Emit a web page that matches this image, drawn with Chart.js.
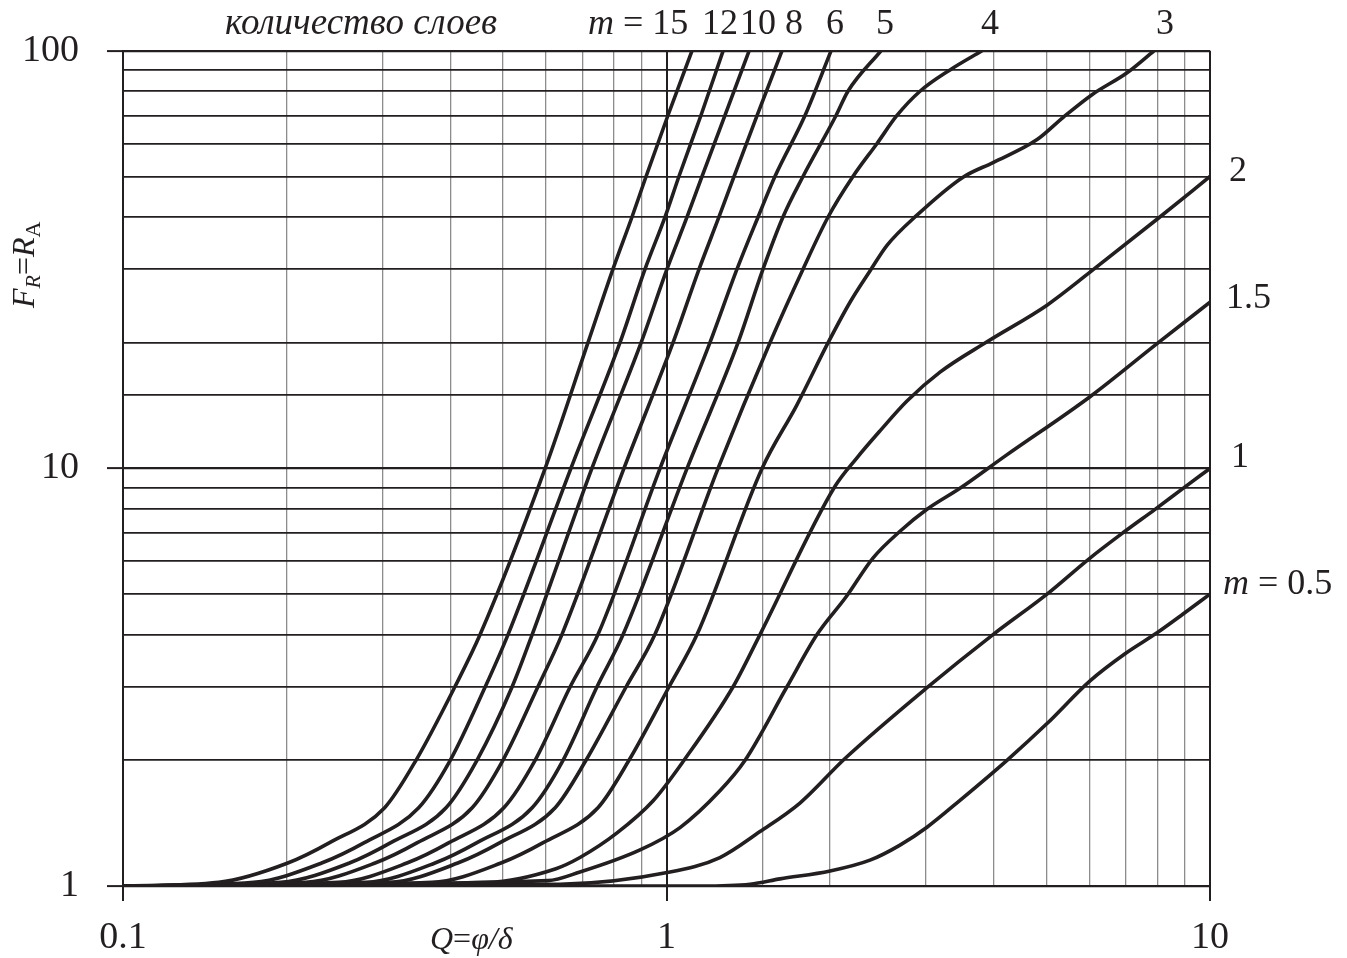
<!DOCTYPE html>
<html>
<head>
<meta charset="utf-8">
<script src="https://cdn.jsdelivr.net/npm/chart.js@4.4.1/dist/chart.umd.min.js"></script>
<style>
  html, body { margin: 0; padding: 0; background: #fff; }
  #wrap { width: 1347px; height: 958px; position: relative; }
</style>
</head>
<body>
<div id="wrap"><canvas id="chart"></canvas></div>
<script>
// number of layers m (one curve each)
const layers = ['15', '12', '10', '8', '6', '5', '4', '3', '2', '1.5', '1', '0.5'];

// F levels shared by the steep curves m = 15 ... 6
const fSteep = [1, 1.02, 1.135, 1.27, 1.54, 2, 3, 4, 10, 20, 30, 40, 50, 70, 100];

// Q = phi/delta
const qM15 = [0.1, 0.150, 0.201, 0.240, 0.303, 0.346, 0.408, 0.454, 0.598, 0.717, 0.797, 0.864, 0.917, 1.006, 1.114];
const qM12 = [0.1, 0.174, 0.232, 0.278, 0.350, 0.400, 0.464, 0.511, 0.667, 0.821, 0.913, 0.994, 1.054, 1.157, 1.271];
const qM10 = [0.1, 0.195, 0.261, 0.311, 0.393, 0.448, 0.520, 0.566, 0.729, 0.898, 1.002, 1.091, 1.162, 1.281, 1.419];
const qM8  = [0.1, 0.217, 0.291, 0.348, 0.439, 0.500, 0.580, 0.642, 0.835, 1.028, 1.148, 1.249, 1.331, 1.468, 1.631];
const qM6  = [0.1, 0.249, 0.333, 0.398, 0.502, 0.573, 0.665, 0.748, 0.973, 1.202, 1.348, 1.474, 1.583, 1.798, 2.008];

const qM5 = [0.1, 0.280, 0.375, 0.448, 0.566, 0.645, 0.745, 0.832, 1.091, 1.354, 1.505, 1.638, 1.783, 2.051, 2.157, 2.481];
const fM5 = [1, 1.02, 1.135, 1.27, 1.54, 2, 3, 4, 10, 20, 30, 40, 50, 70, 80, 100];

const qM4 = [0.1, 0.309, 0.413, 0.494, 0.624, 0.711, 0.843, 0.952, 1.244, 1.550, 1.783, 1.983, 2.203, 2.440, 2.655, 2.927, 3.324, 3.807];
const fM4 = [1, 1.02, 1.135, 1.27, 1.54, 2, 3, 4, 10, 20, 30, 40, 50, 60, 70, 80, 90, 100];

const qM3 = [0.1, 0.370, 0.496, 0.593, 0.748, 0.853, 1.011, 1.138, 1.499, 1.738, 1.983, 2.176, 2.368, 2.545, 2.890, 3.512, 3.988, 4.807, 5.363, 6.066, 7.037, 7.889];
const fM3 = [1, 1.02, 1.135, 1.27, 1.54, 2, 3, 4, 10, 14.2, 20, 25, 29.7, 34.2, 40.4, 49.8, 54, 61.3, 69.2, 78.5, 88.6, 100];

const qM2 = [0.1, 0.468, 0.626, 0.693, 0.811, 0.945, 1.077, 1.326, 1.486, 2.042, 2.241, 2.471, 2.770, 3.186, 3.888, 5.013, 6.015, 7.990, 10];
const fM2 = [1, 1.02, 1.10, 1.17, 1.34, 1.6, 2, 3, 4, 9.06, 10.6, 12.3, 14.5, 17.0, 20.1, 24.6, 29.5, 39.5, 50];

const qM15b = [0.1, 0.605, 0.693, 0.894, 1.059, 1.254, 1.395, 1.666, 1.892, 2.139, 2.398, 2.689, 3.015, 3.467, 4.196, 6.015, 7.990, 10];
const fM15b = [1, 1.03, 1.08, 1.22, 1.38, 1.69, 2, 3, 4, 4.92, 6.10, 7.07, 7.98, 8.96, 10.7, 14.85, 19.9, 25];

const qM1 = [0.1, 0.637, 1.015, 1.254, 1.486, 1.760, 2.130, 3.015, 3.988, 5.013, 6.015, 6.977, 7.923, 8.921, 10];
const fM1 = [1, 1.01, 1.08, 1.17, 1.35, 1.58, 2.02, 2.985, 4, 5.0, 6.1, 7.07, 7.98, 8.96, 10];

const qM05 = [0.1, 1.153, 1.425, 1.618, 2.0, 2.368, 2.689, 3.015, 3.467, 4.231, 5.013, 6.015, 6.977, 7.990, 8.921, 10];
const fM05 = [1, 1.0, 1.01, 1.04, 1.086, 1.153, 1.253, 1.383, 1.604, 2.0, 2.449, 3.10, 3.60, 4.04, 4.48, 5.0];

const curves = [
  [qM15, fSteep], [qM12, fSteep], [qM10, fSteep], [qM8, fSteep], [qM6, fSteep],
  [qM5, fM5], [qM4, fM4], [qM3, fM3], [qM2, fM2], [qM15b, fM15b], [qM1, fM1], [qM05, fM05]
];

const INK = '#231f20';
const SERIF = '"Liberation Serif", "Times New Roman", serif';

const isDecade = v => Math.abs(Math.log10(v) - Math.round(Math.log10(v))) < 1e-6;
const fmt = v => v >= 1 ? String(Math.round(v)) : String(+v.toFixed(1));

function drawRuns(ctx, parts, x, y) {
  let cx = x;
  parts.forEach(([text, style, size, dy]) => {
    ctx.font = style + ' ' + size + 'px ' + SERIF;
    ctx.fillText(text, cx, y + (dy || 0));
    cx += ctx.measureText(text).width;
  });
}

const textPlugin = {
  id: 'labels',
  afterDraw(chart) {
    const ctx = chart.ctx;
    ctx.save();
    ctx.fillStyle = INK;
    ctx.textAlign = 'left';
    ctx.textBaseline = 'alphabetic';

    // top: layer count labels
    drawRuns(ctx, [['количество слоев', 'italic', 37]], 225, 34);
    drawRuns(ctx, [['m', 'italic', 36], [' = 15', 'normal', 36]], 588, 34);
    [['12', 702], ['10', 740], ['8', 785], ['6', 826], ['5', 876], ['4', 981], ['3', 1156]]
      .forEach(([t, x]) => drawRuns(ctx, [[t, 'normal', 36]], x, 34));

    // right side labels
    drawRuns(ctx, [['2', 'normal', 36]], 1229, 181);
    drawRuns(ctx, [['1.5', 'normal', 36]], 1226, 308);
    drawRuns(ctx, [['1', 'normal', 36]], 1231, 467);
    drawRuns(ctx, [['m', 'italic', 36], [' = 0.5', 'normal', 36]], 1223, 594);

    // x title
    drawRuns(ctx, [['Q', 'italic', 32], ['=', 'normal', 32], ['φ/δ', 'italic', 32]], 430, 949);

    // y title
    ctx.translate(34, 308);
    ctx.rotate(-Math.PI / 2);
    drawRuns(ctx, [['F', 'italic', 32], ['R', 'italic', 22, 6], ['=', 'normal', 32],
                   ['R', 'italic', 32], ['A', 'normal', 22, 6]], 0, 0);
    ctx.restore();
  }
};

new Chart(document.getElementById('chart'), {
  type: 'line',
  data: {
    datasets: curves.map(([qs, fs], i) => ({
      label: 'm = ' + layers[i],
      data: qs.map((q, j) => ({ x: q, y: fs[j] })),
      borderColor: INK,
      borderWidth: 3.6,
      pointRadius: 0,
      fill: false,
      cubicInterpolationMode: 'monotone'
    }))
  },
  options: {
    responsive: true,
    maintainAspectRatio: false,
    animation: false,
    layout: { padding: { top: 48, right: 137, left: 0, bottom: 0 } },
    plugins: { legend: { display: false }, tooltip: { enabled: false } },
    scales: {
      x: {
        type: 'logarithmic',
        min: 0.1,
        max: 10,
        afterFit: s => { s.height = 72; },
        border: { display: true, color: INK, width: 2 },
        grid: {
          color: c => isDecade(c.tick.value) ? INK : '#8c8c8c',
          lineWidth: c => isDecade(c.tick.value) ? 2 : 1.3,
          tickLength: 15,
          tickColor: c => isDecade(c.tick.value) ? INK : 'rgba(0,0,0,0)',
          tickWidth: 2
        },
        ticks: {
          autoSkip: false,
          maxRotation: 0,
          padding: 14,
          color: INK,
          font: { family: SERIF, size: 38 },
          callback: v => isDecade(v) ? fmt(v) : ''
        }
      },
      y: {
        type: 'logarithmic',
        min: 1,
        max: 100,
        afterFit: s => { s.width = 123; },
        border: { display: true, color: INK, width: 2 },
        grid: {
          color: INK,
          lineWidth: c => isDecade(c.tick.value) ? 2.2 : 1.8,
          tickLength: 16,
          tickColor: c => isDecade(c.tick.value) ? INK : 'rgba(0,0,0,0)',
          tickWidth: 2
        },
        ticks: {
          autoSkip: false,
          padding: 28,
          color: INK,
          font: { family: SERIF, size: 38 },
          callback: v => isDecade(v) ? fmt(v) : ''
        }
      }
    }
  },
  plugins: [textPlugin]
});
</script>
</body>
</html>
